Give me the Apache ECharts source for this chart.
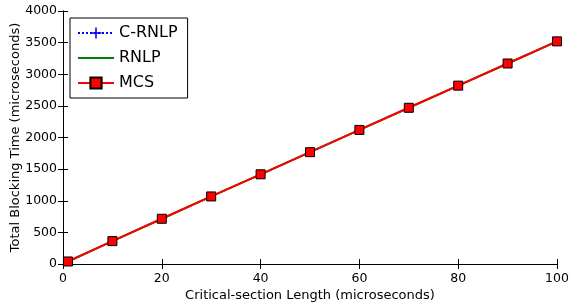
<!DOCTYPE html>
<html><head><meta charset="utf-8">
<script src="https://cdn.jsdelivr.net/npm/echarts@6/dist/echarts.min.js"></script>
<style>html,body{margin:0;padding:0;background:#fff}#c{width:571px;height:307px}</style>
</head><body><div id="c"></div>
<script>
const xValues = [1, 10, 20, 30, 40, 50, 60, 70, 80, 90, 100];
const cRnlp = [40, 362, 715, 1068, 1418, 1768, 2120, 2470, 2820, 3170, 3520];
const rnlp  = [40, 362, 715, 1068, 1418, 1768, 2120, 2470, 2820, 3170, 3520];
const mcs   = [40, 362, 715, 1068, 1418, 1768, 2120, 2470, 2820, 3170, 3520];
const seriesNames = ['C-RNLP', 'RNLP', 'MCS'];
const xTitle = 'Critical-section Length (microseconds)';
const yTitle = 'Total Blocking Time (microseconds)';

const pairs = arr => xValues.map((x, i) => [x, arr[i]]);
const font = 'DejaVu Sans';
const axisCommon = {
  axisLine: {show: true, lineStyle: {color: '#000', width: 1}},
  axisTick: {show: true, inside: true, length: 5, lineStyle: {color: '#000'}},
  splitLine: {show: false}
};
const chart = echarts.init(document.getElementById('c'), null, {renderer: 'canvas'});
chart.setOption({
  animation: false,
  backgroundColor: '#fff',
  textStyle: {fontFamily: font},
  grid: {left: 63, right: 14, top: 11, bottom: 43, containLabel: false, outerBoundsMode: 'none'},
  legend: {
    left: 70, top: 18, orient: 'vertical',
    data: [
      {name: seriesNames[0]},
      {name: seriesNames[1], itemStyle: {opacity: 0}},
      {name: seriesNames[2]}
    ],
    borderColor: '#000', borderWidth: 1, borderRadius: 0,
    padding: [7, 10, 7, 7], itemGap: 9, itemWidth: 36, itemHeight: 14,
    textStyle: {fontFamily: font, fontSize: 16, color: '#000'}
  },
  xAxis: [
    Object.assign({type: 'value', min: 0, max: 100, interval: 20, position: 'bottom',
      name: xTitle, nameLocation: 'middle', nameGap: 25, nameMoveOverlap: false,
      nameTextStyle: {fontFamily: font, fontSize: 13, color: '#000'},
      axisLabel: {fontFamily: font, fontSize: 12.5, color: '#000', margin: 8}}, axisCommon),
    Object.assign({type: 'value', min: 0, max: 100, interval: 20, position: 'top',
      axisLabel: {show: false}}, axisCommon)
  ],
  yAxis: [
    Object.assign({type: 'value', min: 0, max: 4000, interval: 500, position: 'left',
      name: yTitle, nameLocation: 'middle', nameGap: 41, nameMoveOverlap: false,
      nameTextStyle: {fontFamily: font, fontSize: 13, color: '#000'},
      axisLabel: {fontFamily: font, fontSize: 12.5, color: '#000', margin: 6,
        formatter: v => String(v)}}, axisCommon),
    Object.assign({type: 'value', min: 0, max: 4000, interval: 500, position: 'right',
      axisLabel: {show: false}}, axisCommon)
  ],
  series: [
    {name: seriesNames[0], type: 'line', data: pairs(cRnlp), xAxisIndex: 0, yAxisIndex: 0,
      lineStyle: {color: '#0000ff', width: 1.5, type: 'dotted'},
      itemStyle: {color: '#0000ff'},
      symbol: 'path://M4.3,0H5.7V10H4.3ZM0,4.3H10V5.7H0Z', symbolSize: 9, z: 2},
    {name: seriesNames[1], type: 'line', data: pairs(rnlp), xAxisIndex: 0, yAxisIndex: 0,
      lineStyle: {color: '#008000', width: 2}, itemStyle: {color: '#008000'},
      symbol: 'none', z: 3},
    {name: seriesNames[2], type: 'line', data: pairs(mcs), xAxisIndex: 0, yAxisIndex: 0,
      lineStyle: {color: '#ff0000', width: 2},
      itemStyle: {color: '#ff0000', borderColor: '#000', borderWidth: 1},
      symbol: 'rect', symbolSize: 9, z: 4}
  ]
});
</script></body></html>
